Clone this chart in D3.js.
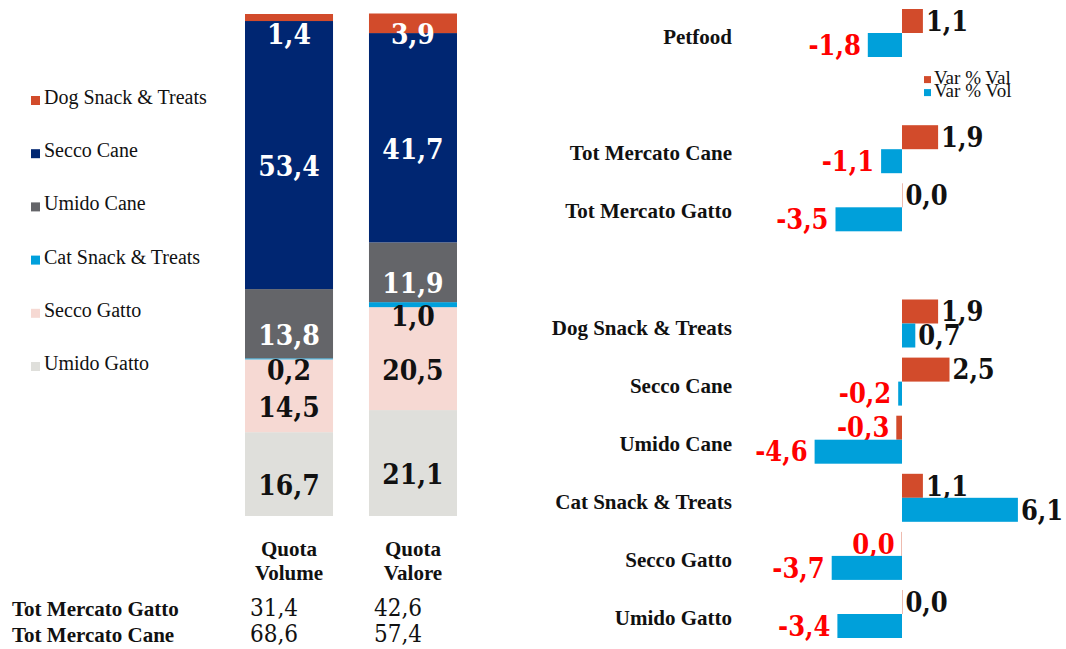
<!DOCTYPE html>
<html lang="it">
<head>
<meta charset="UTF-8">
<title>Petfood - quote e variazioni</title>
<style>
  body { margin: 0; background: #fff; }
  svg { display: block; }
  .txt { font-family: "Liberation Serif", serif; fill: #111; }
  .num { font-family: "DejaVu Serif Condensed", "DejaVu Serif", serif; font-stretch: condensed; font-weight: bold; }
  .plain { font-family: "DejaVu Serif Condensed", "DejaVu Serif", serif; font-weight: normal; fill: #111; }
</style>
<script src="https://d3js.org/d3.v7.min.js"></script>
</head>
<body>
<div id="chart"></div>
<script>
// segmenti delle barre impilate (dal basso verso l'alto)
var segNames = ["Umido Gatto", "Secco Gatto", "Cat Snack & Treats", "Umido Cane", "Secco Cane", "Dog Snack & Treats"];
var segColors = ["#dfdfdb", "#f6d9d3", "#00a0dc", "#646569", "#002672", "#d24b2b"];
var segLabelColors = ["#111", "#111", "#111", "#fff", "#fff", "#fff"];
var quotaVolume = [16.7, 14.5, 0.2, 13.8, 53.4, 1.4];
var quotaValore = [21.1, 20.5, 1.0, 11.9, 41.7, 3.9];
var barNames = ["Quota Volume", "Quota Valore"];

// tabella sotto le barre
var totRows = ["Tot Mercato Gatto", "Tot Mercato Cane"];
var totVolume = [31.4, 68.6];
var totValore = [42.6, 57.4];

// variazioni % (le righe vuote sono spazi)
var varCats = ["Petfood", "", "Tot Mercato Cane", "Tot Mercato Gatto", "", "Dog Snack & Treats",
  "Secco Cane", "Umido Cane", "Cat Snack & Treats", "Secco Gatto", "Umido Gatto"];
var varVal = [1.1, null, 1.9, 0.02, null, 1.9, 2.5, -0.3, 1.1, -0.02, 0.02];
var varVol = [-1.8, null, -1.1, -3.5, null, 0.7, -0.2, -4.6, 6.1, -3.7, -3.4];
var varNames = ["Var % Val", "Var % Vol"];
var varColors = ["#d24b2b", "#00a0da"];

var W = 1066, H = 649;
var svg = d3.select("#chart").append("svg").attr("width", W).attr("height", H);

function fmt(v) {
  if (Math.abs(v) < 0.05) return "0,0";
  return d3.format(".1f")(v).replace(".", ",").replace("\u2212", "-");
}

// ---- barre impilate ----
var x = d3.scaleBand().domain(barNames).range([245, 457]).paddingInner(0.29).paddingOuter(0);
var y = d3.scaleLinear().domain([0, 100]).range([516, 14]);

var series = [quotaVolume, quotaValore];
barNames.forEach(function(name, i) {
  var vals = series[i];
  var acc = 0;
  var segs = vals.map(function(v, k) { var s = { k: k, v: v, y0: acc, y1: acc + v }; acc += v; return s; });
  var g = svg.append("g");
  g.selectAll("rect").data(segs).enter().append("rect")
    .attr("x", x(name))
    .attr("width", x.bandwidth())
    .attr("y", function(d) { return y(d.y1); })
    .attr("height", function(d) { return y(d.y0) - y(d.y1); })
    .attr("fill", function(d) { return segColors[d.k]; });
  g.selectAll("text").data(segs).enter().append("text")
    .attr("class", "num")
    .attr("x", x(name) + x.bandwidth() / 2)
    .attr("y", function(d) { return Math.max((y(d.y0) + y(d.y1)) / 2 + 11, y(100) + 20); })
    .attr("dy", "0.36em")
    .attr("text-anchor", "middle")
    .attr("font-size", 28)
    .attr("fill", function(d) { return segLabelColors[d.k]; })
    .text(function(d) { return fmt(d.v); });
});

// legenda a sinistra (dall'alto)
var legOrder = segNames.slice().reverse();
var legY = d3.scalePoint().domain(legOrder).range([104, 370]);
var leg = svg.append("g").selectAll("g").data(legOrder).enter().append("g")
  .attr("transform", function(d) { return "translate(31," + legY(d) + ")"; });
leg.append("rect").attr("x", 0).attr("y", -8).attr("width", 9).attr("height", 9)
  .attr("fill", function(d) { return segColors[segNames.indexOf(d)]; });
leg.append("text").attr("class", "txt").attr("x", 13).attr("y", 0)
  .attr("font-size", 20).text(function(d) { return d; });

// intestazioni colonne
barNames.forEach(function(name) {
  var parts = name.split(" ");
  var t = svg.append("text").attr("class", "txt").attr("font-weight", "bold").attr("font-size", 21)
    .attr("text-anchor", "middle");
  parts.forEach(function(p, j) {
    t.append("tspan").attr("x", x(name) + x.bandwidth() / 2).attr("y", 556 + j * 24).text(p);
  });
});

// tabella totali
var rowY = d3.scalePoint().domain(totRows).range([616, 642]);
totRows.forEach(function(r, i) {
  svg.append("text").attr("class", "txt").attr("font-weight", "bold").attr("font-size", 21)
    .attr("x", 12).attr("y", rowY(r)).text(r);
  [totVolume, totValore].forEach(function(arr, j) {
    svg.append("text").attr("class", "plain").attr("font-size", 24)
      .attr("x", x(barNames[j]) + 5).attr("y", rowY(r))
      .text(fmt(arr[i]));
  });
});

// ---- variazioni % ----
var vx = d3.scaleLinear().domain([-6, 8]).range([788, 1054]);
var vy = d3.scalePoint().domain(d3.range(varCats.length)).range([33, 614]);
var bh = 24;
var rows = varCats.map(function(c, i) { return { i: i, c: c, val: varVal[i], vol: varVol[i] }; })
  .filter(function(d) { return d.c !== ""; });

var vg = svg.append("g");
vg.selectAll(".cat").data(rows).enter().append("text")
  .attr("class", "txt").attr("font-weight", "bold").attr("font-size", 21)
  .attr("x", 732).attr("y", function(d) { return vy(d.i) + 11; })
  .attr("text-anchor", "end").text(function(d) { return d.c; });

[["val", 0], ["vol", 1]].forEach(function(s) {
  var key = s[0], k = s[1];
  var y0 = function(d) { return vy(d.i) - bh + k * bh; };
  vg.selectAll(".b" + key).data(rows).enter().append("rect")
    .attr("x", function(d) { return vx(Math.min(0, d[key])); })
    .attr("width", function(d) { return Math.abs(vx(d[key]) - vx(0)); })
    .attr("y", y0).attr("height", bh)
    .attr("fill", varColors[k]);
  vg.selectAll(".l" + key).data(rows).enter().append("text")
    .attr("class", "num").attr("font-size", 27)
    .attr("x", function(d) { return d[key] < 0 ? vx(d[key]) - 7 : vx(d[key]) + 3; })
    .attr("y", function(d) { return y0(d) + bh / 2; })
    .attr("dy", "0.36em")
    .attr("text-anchor", function(d) { return d[key] < 0 ? "end" : "start"; })
    .attr("fill", function(d) { return d[key] < 0 ? "#ff0000" : "#111"; })
    .text(function(d) { return fmt(d[key]); });
});

// legenda variazioni
var lg = svg.append("g").selectAll("g").data(varNames).enter().append("g")
  .attr("transform", function(d, i) { return "translate(924," + (vy(1) - 9 + i * 13) + ")"; });
lg.append("rect").attr("x", 0).attr("y", -6).attr("width", 7).attr("height", 7)
  .attr("fill", function(d, i) { return varColors[i]; });
lg.append("text").attr("class", "txt").attr("x", 10).attr("y", 2).attr("font-size", 19)
  .text(function(d) { return d; });
</script>
</body>
</html>
